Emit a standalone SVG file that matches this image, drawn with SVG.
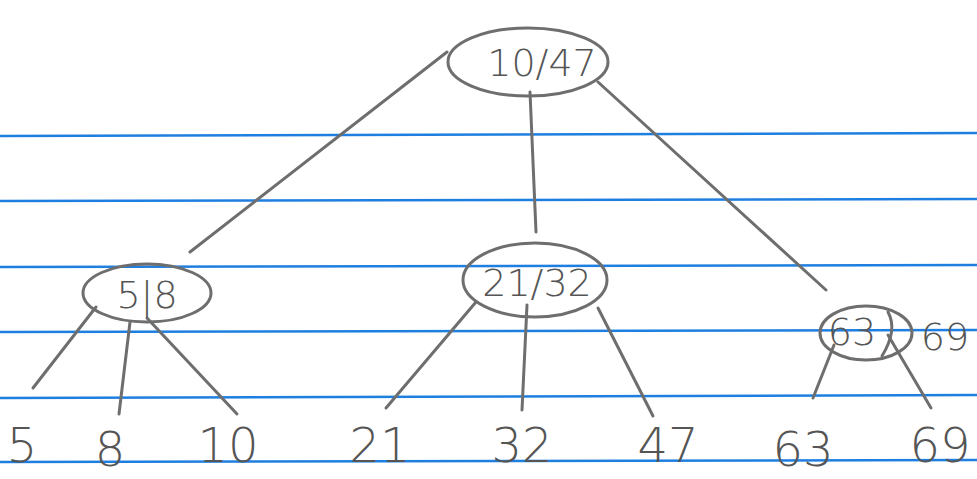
<svg xmlns="http://www.w3.org/2000/svg" width="977" height="479" viewBox="0 0 977 479">
<style>
.rule{stroke:#1f7fe0;stroke-width:2.5;fill:none}
.pen{stroke:#6e6e6e;stroke-width:3;fill:none;stroke-linecap:round}
.t{font-family:"DejaVu Sans",sans-serif;fill:#555;text-anchor:middle;font-weight:300}
.leaf{font-size:48px}
.key{font-size:38px}
</style>
<rect width="977" height="479" fill="#ffffff"/>
<g id="paper">
<line class="rule" x1="0" y1="136" x2="977" y2="133"/>
<line class="rule" x1="0" y1="201" x2="977" y2="199"/>
<line class="rule" x1="0" y1="267" x2="977" y2="265"/>
<line class="rule" x1="0" y1="332" x2="977" y2="330"/>
<line class="rule" x1="0" y1="398" x2="977" y2="395"/>
<line class="rule" x1="0" y1="462" x2="977" y2="460"/>
</g>
<g id="connectors">
<path class="pen" d="M447 52 L190 252"/>
<path class="pen" d="M530 92 L536 232"/>
<path class="pen" d="M598 82 L826 290"/>
<path class="pen" d="M96 307 L33 388"/>
<path class="pen" d="M130 322 L119 414"/>
<path class="pen" d="M147 318 L237 414"/>
<path class="pen" d="M476 302 L386 408"/>
<path class="pen" d="M527 305 L522 410"/>
<path class="pen" d="M598 308 L653 416"/>
<path class="pen" d="M834 345 L813 398"/>
<path class="pen" d="M888 335 L931 408"/>
</g>
<g id="n_root">
<ellipse class="pen" cx="528" cy="62" rx="80" ry="34"/>
<text class="t key" x="542" y="76">10/47</text>
</g>
<g id="n_left">
<ellipse class="pen" cx="147" cy="293" rx="64" ry="29"/>
<text class="t key" x="147" y="308">5|8</text>
</g>
<g id="n_mid">
<ellipse class="pen" cx="535" cy="280" rx="72" ry="37"/>
<text class="t key" x="537" y="296">21/32</text>
</g>
<g id="n_right">
<ellipse class="pen" cx="866" cy="333" rx="46" ry="27"/>
<text class="t key" x="852" y="345">63</text>
<path class="pen" d="M888 312 Q898 330 882 356"/>
<text class="t key" x="945" y="350">69</text>
</g>
<g id="leaves">
<text class="t leaf" x="22" y="462">5</text>
<text class="t leaf" x="110" y="466">8</text>
<text class="t leaf" x="228" y="462">10</text>
<text class="t leaf" x="380" y="462">21</text>
<text class="t leaf" x="522" y="462">32</text>
<text class="t leaf" x="668" y="462">47</text>
<text class="t leaf" x="803" y="466">63</text>
<text class="t leaf" x="940" y="462">69</text>
</g>
</svg>
